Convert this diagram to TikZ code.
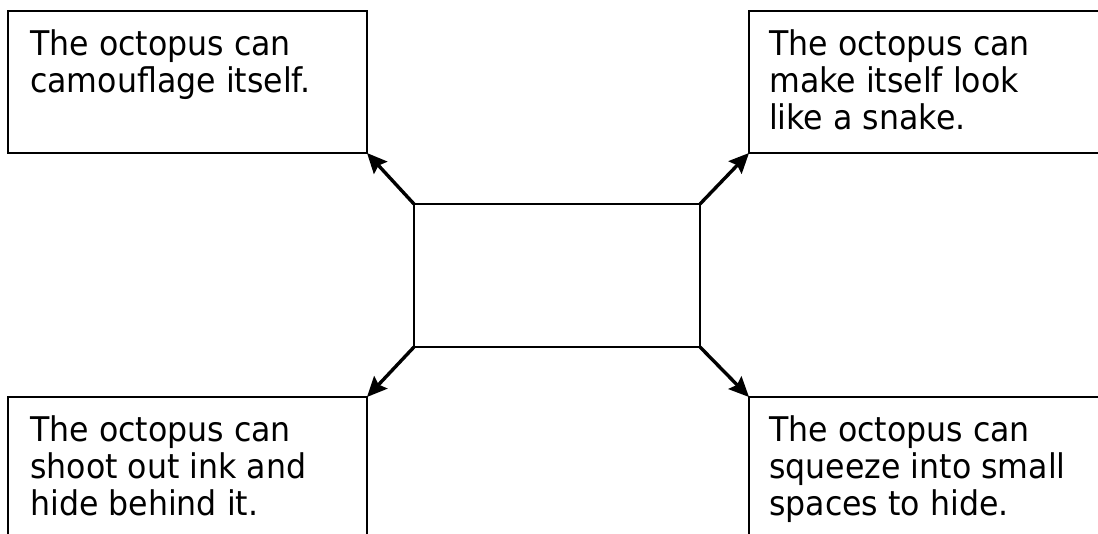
\documentclass[tikz,border=0pt]{standalone}
\usepackage{fontspec}
\newfontfamily\boxfont[FakeStretch=0.93]{DejaVu Sans}
\usetikzlibrary{arrows.meta}

\begin{document}
\begin{tikzpicture}[x=1pt, y=-1pt,
  box/.style={draw, line width=2.2pt, inner sep=0pt, outer sep=0pt, anchor=north west},
  txt/.style={anchor=base west, inner sep=0pt, align=left,
              font=\boxfont\fontsize{34}{37}\selectfont},
  link/.style={line width=3.4pt, -{Stealth[length=20pt, width=18pt, inset=3pt]}}]

  \useasboundingbox (0,0) rectangle (1098,533);

  % centre box
  \node[box, minimum width=286pt, minimum height=143pt] (c) at (414,204) {};

  % four corner boxes (the right and lower ones run off the page)
  \node[box, minimum width=359pt, minimum height=142pt] (tl) at (8,11) {};
  \node[box, minimum width=370pt, minimum height=142pt] (tr) at (749,11) {};
  \node[box, minimum width=359pt, minimum height=160pt] (bl) at (8,397) {};
  \node[box, minimum width=370pt, minimum height=160pt] (br) at (749,397) {};

  % box texts, placed by the baseline of their last line
  \node[txt] (ttl) at (30,92) {The octopus can\\camouflage itself.};
  \node[txt] (ttr) at (769,129) {The octopus can\\make itself look\\like a snake.};
  \node[txt] (tbl) at (30,515) {The octopus can\\shoot out ink and\\hide behind it.};
  \node[txt] (tbr) at (769,515) {The octopus can\\squeeze into small\\spaces to hide.};

  % arrows from the centre box corners
  \draw[link] (c.north west) -- (tl.south east);
  \draw[link] (c.north east) -- (tr.south west);
  \draw[link] (c.south west) -- (bl.north east);
  \draw[link] (c.south east) -- (br.north west);
\end{tikzpicture}
\end{document}
